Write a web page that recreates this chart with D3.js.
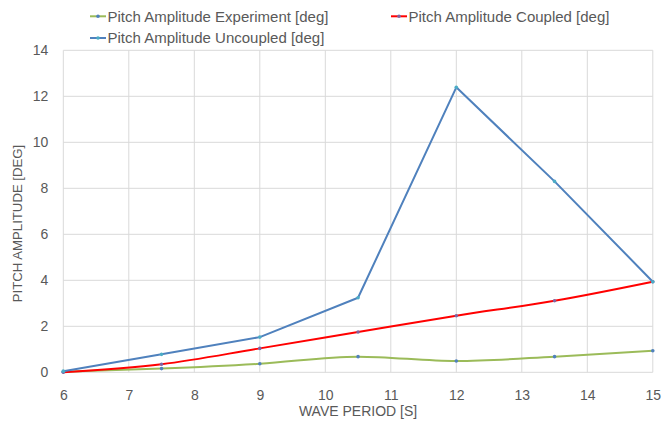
<!DOCTYPE html>
<html>
<head>
<meta charset="utf-8">
<script src="https://cdn.jsdelivr.net/npm/d3@7"></script>
<style>
  html, body { margin: 0; padding: 0; background: #fff; }
  svg { display: block; font-family: "Liberation Sans", Arial, sans-serif; }
</style>
</head>
<body>
<svg id="chart" width="662" height="423"></svg>
<script>
// Wave periods [s]
const periods = [6, 7.5, 9, 10.5, 12, 13.5, 15];
// Pitch amplitudes [deg]
const experiment = [0.02, 0.16, 0.37, 0.68, 0.49, 0.68, 0.94];
const coupled    = [0.00, 0.35, 1.04, 1.75, 2.46, 3.11, 3.94];
const uncoupled  = [0.05, 0.78, 1.53, 3.24, 12.39, 8.30, 3.94];

const xTicks = [6, 7, 8, 9, 10, 11, 12, 13, 14, 15];
const yTicks = [0, 2, 4, 6, 8, 10, 12, 14];

const series = [
  { name: "Pitch Amplitude Experiment [deg]", values: experiment, color: "#9bbb59", marker: "#4f81bd", curve: d3.curveMonotoneX },
  { name: "Pitch Amplitude Coupled [deg]",    values: coupled,    color: "#ff0000", marker: "#8064a2", curve: d3.curveMonotoneX },
  { name: "Pitch Amplitude Uncoupled [deg]",  values: uncoupled,  color: "#4f81bd", marker: "#4bacc6", curve: d3.curveLinear }
];

const svg = d3.select("#chart");
const plotLeft = 63.3, plotRight = 652.8, plotTop = 50.3, plotBottom = 372.3;

const x = d3.scaleLinear().domain([6, 15]).range([plotLeft, plotRight]);
const y = d3.scaleLinear().domain([0, 14]).range([plotBottom, plotTop]);

const textColor = "#595959";
const gridColor = "#d9d9d9";

// Gridlines
svg.append("g")
  .selectAll("line")
  .data(xTicks)
  .join("line")
  .attr("x1", d => x(d)).attr("x2", d => x(d))
  .attr("y1", plotTop).attr("y2", plotBottom)
  .attr("stroke", gridColor).attr("stroke-width", 1);

svg.append("g")
  .selectAll("line")
  .data(yTicks)
  .join("line")
  .attr("x1", plotLeft).attr("x2", plotRight)
  .attr("y1", d => y(d)).attr("y2", d => y(d))
  .attr("stroke", gridColor).attr("stroke-width", 1);

// Axes (labels only)
const xAxis = svg.append("g")
  .attr("transform", `translate(0,${plotBottom})`)
  .call(d3.axisBottom(x).tickValues(xTicks).tickSize(0).tickPadding(18).tickFormat(d3.format("d")));
xAxis.select(".domain").remove();
xAxis.selectAll("text").attr("fill", textColor).attr("font-size", 14);

const yAxis = svg.append("g")
  .attr("transform", `translate(${plotLeft},0)`)
  .call(d3.axisLeft(y).tickValues(yTicks).tickSize(0).tickPadding(15).tickFormat(d3.format("d")));
yAxis.select(".domain").remove();
yAxis.selectAll("text").attr("fill", textColor).attr("font-size", 14);

// Axis titles
svg.append("text")
  .attr("x", (plotLeft + plotRight) / 2).attr("y", 416)
  .attr("text-anchor", "middle")
  .attr("fill", textColor).attr("font-size", 14)
  .text("WAVE PERIOD [S]");

svg.append("text")
  .attr("transform", "translate(22,223.5) rotate(-90)")
  .attr("text-anchor", "middle")
  .attr("fill", textColor).attr("font-size", 13.2)
  .text("PITCH AMPLITUDE [DEG]");

// Lines and markers
series.forEach(s => {
  const pts = periods.map((p, i) => [p, s.values[i]]);
  const line = d3.line().x(d => x(d[0])).y(d => y(d[1])).curve(s.curve);
  svg.append("path")
    .datum(pts)
    .attr("d", line)
    .attr("fill", "none")
    .attr("stroke", s.color)
    .attr("stroke-width", 2)
    .attr("stroke-linejoin", "round");
  svg.append("g")
    .selectAll("circle")
    .data(pts)
    .join("circle")
    .attr("cx", d => x(d[0])).attr("cy", d => y(d[1]))
    .attr("r", 1.8)
    .attr("fill", s.marker);
});

// Legend
const legendPos = [[90, 16.3], [391, 16.3], [90, 38]];
series.forEach((s, i) => {
  const [lx, ly] = legendPos[i];
  const g = svg.append("g").attr("transform", `translate(${lx},${ly})`);
  g.append("line").attr("x1", 0).attr("x2", 16).attr("y1", 0).attr("y2", 0)
    .attr("stroke", s.color).attr("stroke-width", 2);
  g.append("circle").attr("cx", 8).attr("cy", 0).attr("r", 1.8).attr("fill", s.marker);
  g.append("text").attr("x", 17.5).attr("y", 0).attr("dy", "0.35em")
    .attr("fill", textColor).attr("font-size", 15)
    .text(s.name);
});
</script>
</body>
</html>
